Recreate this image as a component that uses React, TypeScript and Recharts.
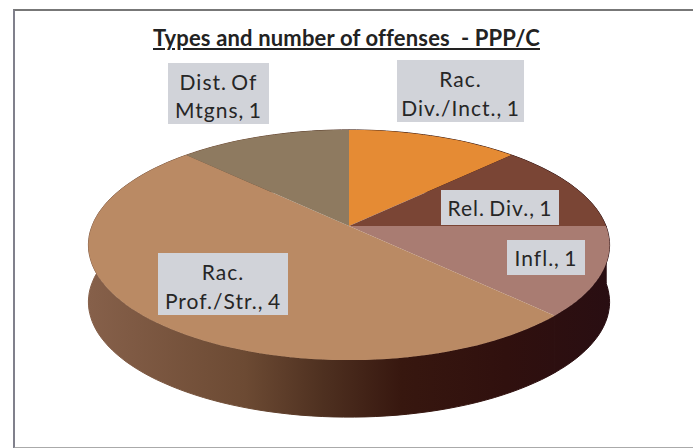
// 3D look pie: Recharts gives the slice angles, the shapes below tilt them with a perspective
import { Cell, Pie, PieChart } from 'recharts'

const categories = ['Rac. Div./Inct.', 'Rel. Div.', 'Infl.', 'Rac. Prof./Str.', 'Dist. Of Mtgns']
const offenses = [1, 1, 1, 4, 1]
const topColors = ['#e58b34', '#7a4535', '#a97c72', '#ba8a64', '#8e7a60']

// boxes behind the labels, same order as categories
const labelBoxes = [
  { x: 397, y: 60, w: 127, h: 62, lines: 2 },
  { x: 441, y: 190, w: 118, h: 35, lines: 1 },
  { x: 507, y: 240, w: 78, h: 35, lines: 1 },
  { x: 158, y: 253, w: 130, h: 62, lines: 2 },
  { x: 168, y: 63, w: 101, h: 61, lines: 2 },
]

const tableData = categories.map((name, i) => ({ name, value: offenses[i] }))

const FONT = 'Lato, sans-serif'
const CX = 349
const CY = 226
const RADIUS = 257
const DEPTH = 57
// perspective of the tilted disc
const SQUASH = 112
const TILT = 0.165

const project = (cx: number, cy: number, r: number, deg: number) => {
  const a = (deg * Math.PI) / 180
  const w = 1 + TILT * Math.sin(a)
  return [cx + (r * Math.cos(a)) / w, cy - (SQUASH * Math.sin(a)) / w]
}

const rim = (p: any) => {
  const pts = []
  const steps = Math.max(2, Math.ceil(Math.abs(p.endAngle - p.startAngle) / 2))
  for (let i = 0; i <= steps; i++) {
    const deg = p.startAngle + ((p.endAngle - p.startAngle) * i) / steps
    pts.push(project(p.cx, p.cy, p.outerRadius, deg))
  }
  return pts
}

const toPath = (pts: number[][]) => 'M' + pts.map((q) => q[0].toFixed(1) + ',' + q[1].toFixed(1)).join('L') + 'Z'

const TopSlice = (p: any) => <path d={toPath([[p.cx, p.cy], ...rim(p)])} fill={p.fill} stroke='none' />

const WallSlice = (p: any) => {
  const top = rim(p)
  const bottom = top.map((q) => [q[0], q[1] + DEPTH]).reverse()
  return <path d={toPath([...top, ...bottom])} fill='url(#wall)' stroke='url(#wall)' strokeWidth={1} />
}

const renderLabel = (p: any) => {
  const box = labelBoxes[p.index]
  const text = p.name + ', ' + p.value
  const cut = p.name.lastIndexOf(' ')
  const lines = box.lines === 2 ? [p.name.slice(0, cut), p.name.slice(cut + 1) + ', ' + p.value] : [text]
  const mid = box.x + box.w / 2
  const shift = lines.length === 2 ? 3 : 1
  return (
    <g key={p.name}>
      <rect x={box.x} y={box.y} width={box.w} height={box.h} fill='#d1d3d9' />
      {lines.map((line, i) => (
        <text
          key={line}
          x={mid}
          y={box.y + box.h / 2 + shift + (i - (lines.length - 1) / 2) * 28.5}
          dy='0.35em'
          textAnchor='middle'
          fontFamily={FONT}
          fontSize={21}
          letterSpacing={1}
          wordSpacing={-2}
          fill='#262626'
        >
          {line}
        </text>
      ))}
    </g>
  )
}

export default function App() {
  return (
    <div style={{ position: 'absolute', left: 0, top: 0, width: 693, height: 448, background: '#fff', overflow: 'hidden' }}>
      <div
        style={{
          position: 'absolute',
          left: 13,
          top: 9,
          width: 690,
          height: 436,
          borderTop: '2px solid #777',
          borderLeft: '2px solid #80808c',
          borderBottom: '2px solid #aaa',
        }}
      />
      <div
        style={{
          position: 'absolute',
          left: 153,
          top: 25,
          fontFamily: FONT,
          fontSize: 22,
          fontWeight: 700,
          letterSpacing: 0.16,
          color: '#222',
          textDecoration: 'underline',
          whiteSpace: 'pre',
          lineHeight: '26px',
        }}
      >
        {'Types and number of offenses  - PPP/C'}
      </div>
      <div style={{ position: 'absolute', left: 0, top: 0 }}>
        <PieChart width={693} height={448} margin={{ top: 0, right: 0, bottom: 0, left: 0 }}>
          <defs>
            <linearGradient id='wall' gradientUnits='userSpaceOnUse' x1={89} y1={0} x2={610} y2={0}>
              <stop offset='0' stopColor='#86604a' />
              <stop offset='0.3' stopColor='#6c4a33' />
              <stop offset='0.45' stopColor='#4e3020' />
              <stop offset='0.6' stopColor='#37170f' />
              <stop offset='0.8' stopColor='#30100e' />
              <stop offset='1' stopColor='#290e12' />
            </linearGradient>
          </defs>
          <Pie
            data={tableData}
            dataKey='value'
            nameKey='name'
            cx={CX}
            cy={CY}
            outerRadius={RADIUS}
            startAngle={90}
            endAngle={-270}
            shape={WallSlice}
            stroke='none'
            isAnimationActive={false}
          />
          <Pie
            data={tableData}
            dataKey='value'
            nameKey='name'
            cx={CX}
            cy={CY}
            outerRadius={RADIUS}
            startAngle={90}
            endAngle={-270}
            shape={TopSlice}
            stroke='none'
            label={renderLabel}
            labelLine={false}
            isAnimationActive={false}
          >
            {topColors.map((c) => (
              <Cell key={c} fill={c} />
            ))}
          </Pie>
        </PieChart>
      </div>
    </div>
  )
}
